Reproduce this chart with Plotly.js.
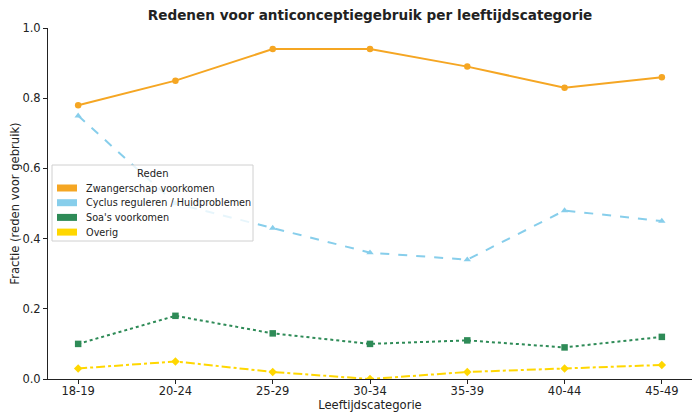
<!DOCTYPE html>
<html>
<head>
<meta charset="utf-8">
<script src="https://cdn.plot.ly/plotly-3.0.1.min.js"></script>
<style>
  body { margin: 0; background: #fff; }
  #chart { width: 700px; height: 420px; }
</style>
</head>
<body>
<div id="chart"></div>
<script>
/* ----- Data ------- */
var ageGroups = ['18-19', '20-24', '25-29', '30-34', '35-39', '40-44', '45-49'];
var pregnancy = [0.78, 0.85, 0.94, 0.94, 0.89, 0.83, 0.86];
var cycleSkin = [0.75, 0.50, 0.43, 0.36, 0.34, 0.48, 0.45];
var stis = [0.10, 0.18, 0.13, 0.10, 0.11, 0.09, 0.12];
var other = [0.03, 0.05, 0.02, 0.00, 0.02, 0.03, 0.04];
var seriesNames = ['Zwangerschap voorkomen', 'Cyclus reguleren / Huidproblemen', "Soa's voorkomen", 'Overig'];
var legendTitle = 'Reden';
var yTicks = [0, 0.2, 0.4, 0.6, 0.8, 1.0];

/* ----- Styles ------- */
var colors = ['#f5a623', '#87ceeb', '#2e8b57', '#ffd700'];
var dashes = ['solid', 'dash', 'dot', 'dashdot'];
var symbols = ['circle', 'triangle-up', 'square', 'diamond'];
var values = [pregnancy, cycleSkin, stis, other];

// plot area in pixels, used to place the hand-made legend
var plotLeft = 48, plotRight = 692, plotTop = 28, plotBottom = 379;
function px(xp) { return (xp - plotLeft) / (plotRight - plotLeft); }
function py(yp) { return (plotBottom - yp) / (plotBottom - plotTop); }

var data = [];
for (var i = 0; i < values.length; i++) {
    data.push({
        x: ageGroups,
        y: values[i],
        type: 'scatter',
        mode: 'lines+markers',
        name: seriesNames[i],
        line: {color: colors[i], width: 2, dash: dashes[i]},
        marker: {color: colors[i], size: 6.5, symbol: symbols[i]},
        showlegend: false,
        hoverinfo: 'none'
    });
}

/* ----- Legend (matplotlib-like patches) ------- */
var shapes = [{
    type: 'rect', xref: 'paper', yref: 'paper',
    x0: px(52), x1: px(253), y0: py(241), y1: py(165),
    fillcolor: 'rgba(255,255,255,0.8)',
    line: {color: '#d0d0d0', width: 1},
    layer: 'above'
}];
var annotations = [{
    xref: 'paper', yref: 'paper',
    x: px(153), y: py(173),
    text: legendTitle, showarrow: false,
    xanchor: 'center', yanchor: 'middle',
    font: {size: 10, color: '#222'}
}];
for (var k = 0; k < seriesNames.length; k++) {
    var rowY = 188 + k * 14.7;
    shapes.push({
        type: 'rect', xref: 'paper', yref: 'paper',
        x0: px(57), x1: px(77), y0: py(rowY + 3.5), y1: py(rowY - 3.5),
        fillcolor: colors[k],
        line: {width: 0},
        layer: 'above'
    });
    annotations.push({
        xref: 'paper', yref: 'paper',
        x: px(84), y: py(rowY),
        text: seriesNames[k], showarrow: false,
        xanchor: 'left', yanchor: 'middle',
        font: {size: 9.7, color: '#222'}
    });
}

var layout = {
    width: 700,
    height: 420,
    margin: {l: plotLeft, r: 700 - plotRight, t: plotTop, b: 420 - plotBottom},
    paper_bgcolor: '#fff',
    plot_bgcolor: '#fff',
    font: {family: 'DejaVu Sans', size: 11.5, color: '#222'},
    title: {
        text: 'Redenen voor anticonceptiegebruik per leeftijdscategorie',
        font: {family: 'DejaVu Sans', size: 13.6, weight: 'bold', color: '#222'},
        x: 0.5,
        xref: 'paper',
        y: 0.975,
        yref: 'container'
    },
    xaxis: {
        type: 'category',
        range: [-0.31, 6.31],
        autorange: false,
        showgrid: false,
        zeroline: false,
        showline: true,
        linecolor: '#222',
        linewidth: 1,
        ticks: 'outside',
        ticklen: 4,
        tickcolor: '#222',
        tickfont: {size: 11.5},
        ticklabelstandoff: -3,
        title: {text: 'Leeftijdscategorie', font: {size: 11.6}, standoff: 0}
    },
    yaxis: {
        range: [0, 1],
        autorange: false,
        tickvals: yTicks,
        tickformat: '.1f',
        showgrid: false,
        zeroline: false,
        showline: true,
        linecolor: '#222',
        linewidth: 1,
        ticks: 'outside',
        ticklen: 4,
        tickcolor: '#222',
        tickfont: {size: 11.5},
        title: {text: 'Fractie (reden voor gebruik)', font: {size: 11.6}, standoff: 0}
    },
    showlegend: false,
    shapes: shapes,
    annotations: annotations
};

Plotly.newPlot('chart', data, layout, {staticPlot: true});
</script>
</body>
</html>
